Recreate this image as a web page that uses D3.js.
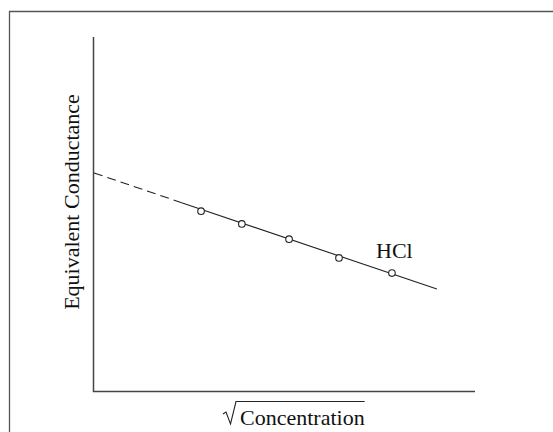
<!DOCTYPE html>
<html>
<head>
<meta charset="utf-8">
<script src="https://cdn.jsdelivr.net/npm/d3@7"></script>
<style>
  body { margin: 0; background: #fff; }
  svg { display: block; }
  .lbl { font-family: "Liberation Serif", "DejaVu Serif", "Times New Roman", serif; font-size: 22px; fill: #111; }
</style>
</head>
<body>
<div id="chart"></div>
<script>
// data: sqrt(concentration) vs equivalent conductance, arbitrary units
var pointX = [2.81, 3.88, 5.12, 6.43, 7.82];
var pointY = [5.08, 4.72, 4.29, 3.76, 3.33];
// extrapolated part (dashed) and measured fit (solid)
var dashX = [0, 2.3];
var dashY = [6.16, 5.32];
var fitX = [2.3, 9.0];
var fitY = [5.32, 2.88];
var seriesName = "HCl";
var xLabel = "Concentration";
var yLabel = "Equivalent Conductance";

var width = 553, height = 432;
var margin = {top: 37, right: 78, bottom: 41, left: 94};

var svg = d3.select("#chart").append("svg")
    .attr("width", width)
    .attr("height", height);

// outer frame (runs off right/bottom edge like the picture)
svg.append("path")
    .attr("d", "M9.5," + (height + 2) + "V11.5H" + (width + 2))
    .attr("fill", "none")
    .attr("stroke", "#555")
    .attr("stroke-width", 1.3);

var x = d3.scaleLinear().domain([0, 10]).range([margin.left, width - margin.right]);
var y = d3.scaleLinear().domain([0, 10]).range([height - margin.bottom, margin.top]);

// axes without ticks
var g = svg.append("g");
g.append("path")
    .attr("d", "M" + (x(0) - 0.5) + "," + y(10) + "V" + (y(0) + 0.5) + "H" + x(10))
    .attr("fill", "none")
    .attr("stroke", "#444")
    .attr("stroke-width", 1.5);

var line = d3.line()
    .x(function(d) { return x(d[0]); })
    .y(function(d) { return y(d[1]); });

g.append("path")
    .datum(dashX.map(function(v, i) { return [v, dashY[i]]; }))
    .attr("d", line)
    .attr("fill", "none")
    .attr("stroke", "#222")
    .attr("stroke-width", 1.1)
    .attr("stroke-dasharray", "9,5");

g.append("path")
    .datum(fitX.map(function(v, i) { return [v, fitY[i]]; }))
    .attr("d", line)
    .attr("fill", "none")
    .attr("stroke", "#222")
    .attr("stroke-width", 1.1);

g.selectAll("circle")
    .data(pointX.map(function(v, i) { return [v, pointY[i]]; }))
    .enter().append("circle")
    .attr("cx", function(d) { return x(d[0]); })
    .attr("cy", function(d) { return y(d[1]); })
    .attr("r", 3.3)
    .attr("fill", "#fff")
    .attr("stroke", "#222")
    .attr("stroke-width", 1.1);

// series label
g.append("text")
    .attr("class", "lbl")
    .attr("x", 376)
    .attr("y", 258)
    .text(seriesName);

// y label
g.append("text")
    .attr("class", "lbl")
    .attr("transform", "translate(79,202) rotate(-90)")
    .attr("text-anchor", "middle")
    .text(yLabel);

// x label with square root sign
var xl = g.append("text")
    .attr("class", "lbl")
    .attr("x", 240)
    .attr("y", 425)
    .text(xLabel);
var bb = xl.node().getBBox();
g.append("path")
    .attr("d", "M223,414 L226,412 L230.5,424 L236,401.5 H" + (bb.x + bb.width))
    .attr("fill", "none")
    .attr("stroke", "#222")
    .attr("stroke-width", 1.1);
</script>
</body>
</html>
